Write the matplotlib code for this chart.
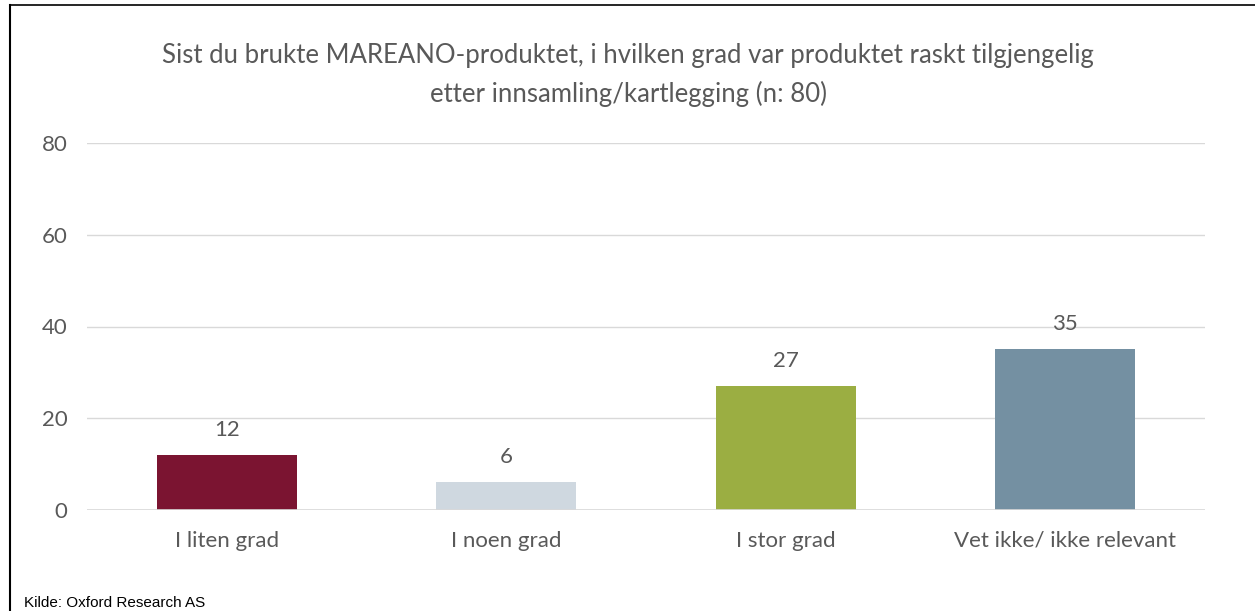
import matplotlib
matplotlib.use("Agg")
import matplotlib.pyplot as plt
from matplotlib.lines import Line2D

categories = ["I liten grad", "I noen grad", "I stor grad", "Vet ikke/ ikke relevant"]
values = [12, 6, 27, 35]
colors = ["#7B1431", "#CFD8E0", "#9BAE42", "#7490A2"]
yticks = [0, 20, 40, 60, 80]
title = "Sist du brukte MAREANO-produktet, i hvilken grad var produktet raskt tilgjengelig\netter innsamling/kartlegging (n: 80)"
source = "Kilde: Oxford Research AS"

plt.rcParams['font.family'] = ['Lato', 'DejaVu Sans']
txt = "#595959"

fig = plt.figure(figsize=(12.55, 6.11), dpi=100)
ax = fig.add_axes([87/1255, 1-510/611, (1205-87)/1255, (510-143)/611])
x = range(len(categories))
bars = ax.bar(x, values, width=0.5, color=colors, zorder=3)
for xi, v in zip(x, values):
    ax.annotate(str(v), (xi, v), xytext=(0, 18), textcoords='offset points',
                ha='center', va='center', fontsize=16, color=txt)
ax.set_xlim(-0.5, len(categories) - 0.5)
ax.set_ylim(0, 80)
ax.set_yticks(yticks)
ax.set_xticks(list(x))
ax.set_xticklabels(categories)
ax.tick_params(axis='both', length=0, labelsize=16, labelcolor=txt)
ax.tick_params(axis='x', pad=15)
ax.tick_params(axis='y', pad=14)
ax.grid(axis='y', color='#D9D9D9', linewidth=1, zorder=0)
for s in ax.spines.values():
    s.set_visible(False)
ax.axhline(0, color='#D9D9D9', linewidth=1.2, zorder=4)

fig.text(628/1255, 1-75/611, title, ha='center', va='center', fontsize=18.5,
         color=txt, linespacing=1.6)
fig.text(24/1255, 1-603/611, source, ha='left', va='center', fontsize=11,
         family=['Liberation Sans'], color='black')

# frame lines
fig.add_artist(Line2D([10/1255, 10/1255], [0, 1-5/611], color='black', linewidth=1.5, transform=fig.transFigure))
fig.add_artist(Line2D([10/1255, 1], [1-5/611, 1-5/611], color='black', linewidth=1.2, transform=fig.transFigure))

fig.savefig("out.png", dpi=100)
